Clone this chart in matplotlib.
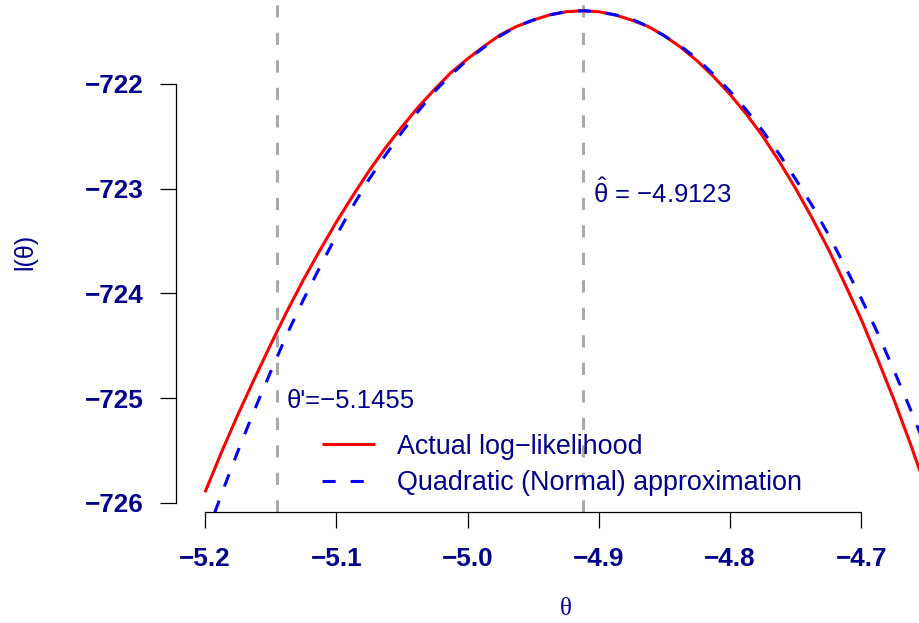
import matplotlib
matplotlib.use("Agg")
import matplotlib.pyplot as plt

plt.rcParams['font.family'] = ['Liberation Sans', 'DejaVu Sans']
plt.rcParams['mathtext.fontset'] = 'custom'
plt.rcParams['mathtext.rm'] = 'Liberation Sans'
plt.rcParams['mathtext.it'] = 'Liberation Sans'
plt.rcParams['mathtext.bf'] = 'Liberation Sans:bold'

# ---- data ----
theta = [-5.2000, -5.1875, -5.1750, -5.1625, -5.1500, -5.1375, -5.1250, -5.1125,
         -5.1000, -5.0875, -5.0750, -5.0625, -5.0500, -5.0375, -5.0250, -5.0125,
         -5.0000, -4.9875, -4.9750, -4.9625, -4.9500, -4.9375, -4.9250, -4.9123,
         -4.9000, -4.8875, -4.8750, -4.8625, -4.8500, -4.8375, -4.8250, -4.8125,
         -4.8000, -4.7875, -4.7750, -4.7625, -4.7500, -4.7375, -4.7250, -4.7125,
         -4.7000, -4.6875, -4.6750, -4.6625, -4.6500]
actual_ll = [-725.90, -725.52, -725.16, -724.82, -724.49, -724.17, -723.87, -723.59,
             -723.32, -723.07, -722.83, -722.61, -722.41, -722.22, -722.05, -721.89,
             -721.76, -721.64, -721.53, -721.45, -721.39, -721.34, -721.31, -721.30,
             -721.31, -721.34, -721.39, -721.45, -721.54, -721.65, -721.78, -721.93,
             -722.10, -722.29, -722.50, -722.74, -723.00, -723.28, -723.58, -723.91,
             -724.25, -724.63, -725.02, -725.44, -725.89]
quad_ll = [-726.35, -725.92, -725.51, -725.12, -724.75, -724.39, -724.06, -723.75,
           -723.45, -723.17, -722.91, -722.68, -722.46, -722.26, -722.07, -721.91,
           -721.77, -721.65, -721.54, -721.45, -721.39, -721.34, -721.31, -721.30,
           -721.31, -721.34, -721.38, -721.45, -721.54, -721.64, -721.76, -721.91,
           -722.07, -722.25, -722.45, -722.67, -722.91, -723.16, -723.44, -723.74,
           -724.05, -724.38, -724.74, -725.11, -725.50]
theta_hat = -4.9123
theta_prime = -5.1455
xticks = [-5.2, -5.1, -5.0, -4.9, -4.8, -4.7]
yticks = [-726, -725, -724, -723, -722]
legend_labels = ["Actual log\u2212likelihood", "Quadratic (Normal) approximation"]

navy = "#00008B"
W, H = 920, 623
fig = plt.figure(figsize=(W / 100, H / 100), dpi=100)
# plot region in pixels: left 176, right 956, bottom 511.7, top -8.5
ax = fig.add_axes([176 / W, (H - 511.7) / H, 780 / W, 520.2 / H])
ax.set_xlim(-5.2 - 29 / 1312.6, -5.2 + 751 / 1312.6)
ax.set_ylim(-726 - 9 / 104.7, -722 + 92.5 / 104.7)

ax.plot(theta, actual_ll, color="red", lw=2.2, solid_capstyle="butt",
        solid_joinstyle="round", label=legend_labels[0])
ax.plot(theta, quad_ll, color="blue", lw=2.2, dashes=(4.3, 4.9),
        dash_capstyle="butt", label=legend_labels[1])
for v in (theta_prime, theta_hat):
    ax.axvline(v, color="#A9A9A9", lw=2.2, dashes=(4.0, 5.0), dash_capstyle="butt",
               zorder=0)

ax.annotate("\u03b8'=\u22125.1455", xy=(theta_prime, -725), xytext=(7.5, -7.3),
            textcoords="offset points", color=navy, fontsize=18.5,
            ha="left", va="baseline")
ax.annotate("$\\hat{\\mathrm{\\theta}}$ = \u22124.9123", xy=(theta_hat, -723),
            xytext=(7.5, -10.3), textcoords="offset points", color=navy,
            fontsize=18.5, ha="left", va="baseline")

for s in ("top", "right"):
    ax.spines[s].set_visible(False)
ax.spines["left"].set_bounds(-726, -722)
ax.spines["bottom"].set_bounds(-5.2, -4.7)
for s in ("left", "bottom"):
    ax.spines[s].set_linewidth(0.9)
ax.set_xticks(xticks)
ax.set_yticks(yticks)
ax.set_xticklabels([f"{t:.1f}".replace("-", "\u2212") for t in xticks])
ax.set_yticklabels([f"{t:d}".replace("-", "\u2212") for t in yticks])
ax.tick_params(axis="both", length=11.5, width=0.9, labelsize=18.8, labelcolor=navy)
ax.tick_params(axis="y", pad=12)
ax.tick_params(axis="x", pad=14)
for lab in ax.get_xticklabels() + ax.get_yticklabels():
    lab.set_fontweight("bold")

ax.set_xlabel("\u03b8", color=navy, fontsize=18, family=["Liberation Serif", "DejaVu Serif"])
ax.xaxis.set_label_coords(0.5, (14 - (H - 511.7)) / 520.2)
ax.xaxis.label.set_va("center")
ax.set_ylabel("l(\u03b8)", color=navy, fontsize=18)
ax.yaxis.set_label_coords((25 - 176) / 780, 0.5)
ax.yaxis.label.set_va("center")

leg = ax.legend(frameon=False, loc="center left",
                bbox_to_anchor=(322 / W, (H - 465) / H),
                bbox_transform=fig.transFigure, fontsize=19.4, borderpad=0,
                borderaxespad=0, handlelength=1.95, handletextpad=0.85,
                labelspacing=0.4)
for t in leg.get_texts():
    t.set_color(navy)

fig.savefig("out.png", dpi=100)
